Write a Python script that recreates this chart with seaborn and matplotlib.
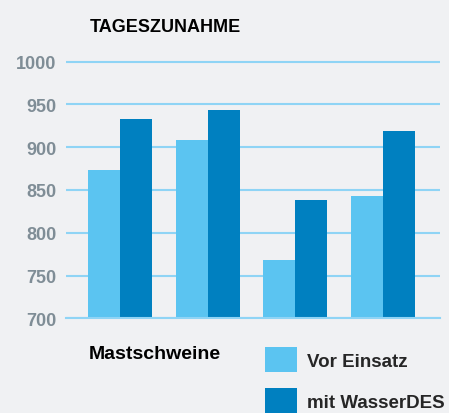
import matplotlib

matplotlib.use("Agg")
import matplotlib.pyplot as plt
import pandas as pd
import seaborn as sns

# data
groups = ["G1", "G2", "G3", "G4"]
vor_einsatz = [873, 909, 768, 843]
mit_wasserdes = [933, 943, 838, 919]
series_names = ["Vor Einsatz", "mit WasserDES"]
yticks = [700, 750, 800, 850, 900, 950, 1000]

BG = "#f0f1f3"
LIGHT = "#5bc4f1"
DARK = "#0080c0"
GRID = "#8fd4f5"
TICK = "#7f8d96"

df = pd.DataFrame(
    {
        "group": groups * 2,
        "value": vor_einsatz + mit_wasserdes,
        "series": [series_names[0]] * len(groups) + [series_names[1]] * len(groups),
    }
)

sns.set_style("white")
plt.rcParams["font.family"] = ["Liberation Sans", "DejaVu Sans"]
plt.rcParams["font.weight"] = "bold"

fig = plt.figure(figsize=(4.49, 4.14), dpi=100, facecolor=BG)
ax = fig.add_axes([66 / 449, 1 - 319.3 / 414, (440 - 66) / 449, (319.3 - 58.4) / 414])
ax.set_facecolor(BG)

sns.barplot(
    data=df,
    x="group",
    y="value",
    hue="series",
    palette=[LIGHT, DARK],
    width=0.727,
    saturation=1,
    gap=0,
    linewidth=0,
    ax=ax,
)

ax.set_ylim(700, 1005)
ax.set_xlim(-0.614, 3.648)
ax.set_yticks(yticks)
ax.set_yticklabels([str(t) for t in yticks], fontsize=13, color=TICK, fontweight="bold")
ax.tick_params(axis="y", length=0, pad=7)
ax.set_xticks([])
ax.set_xlabel("")
ax.set_ylabel("")
ax.yaxis.grid(True, color=GRID, linewidth=1.5)
ax.set_axisbelow(True)
for side in ["left", "right", "top"]:
    ax.spines[side].set_visible(False)
ax.spines["bottom"].set_color(GRID)
ax.spines["bottom"].set_linewidth(1.5)

fig.text(90 / 449, 1 - 32 / 414, "TAGESZUNAHME", fontsize=13, fontweight="bold",
         color="black", ha="left", va="baseline")
fig.text(89 / 449, 1 - 359 / 414, "Mastschweine", fontsize=14, fontweight="bold",
         color="black", ha="left", va="baseline")

handles, labels = ax.get_legend_handles_labels()
ax.legend(
    handles,
    labels,
    loc="upper left",
    bbox_to_anchor=(265 / 449, 1 - 348 / 414),
    bbox_transform=fig.transFigure,
    frameon=False,
    fontsize=13.5,
    handlelength=1.7,
    handleheight=1.7,
    handletextpad=0.55,
    labelspacing=0.85,
    borderpad=0,
    borderaxespad=0,
)

fig.savefig("out.png", dpi=100, facecolor=BG)
